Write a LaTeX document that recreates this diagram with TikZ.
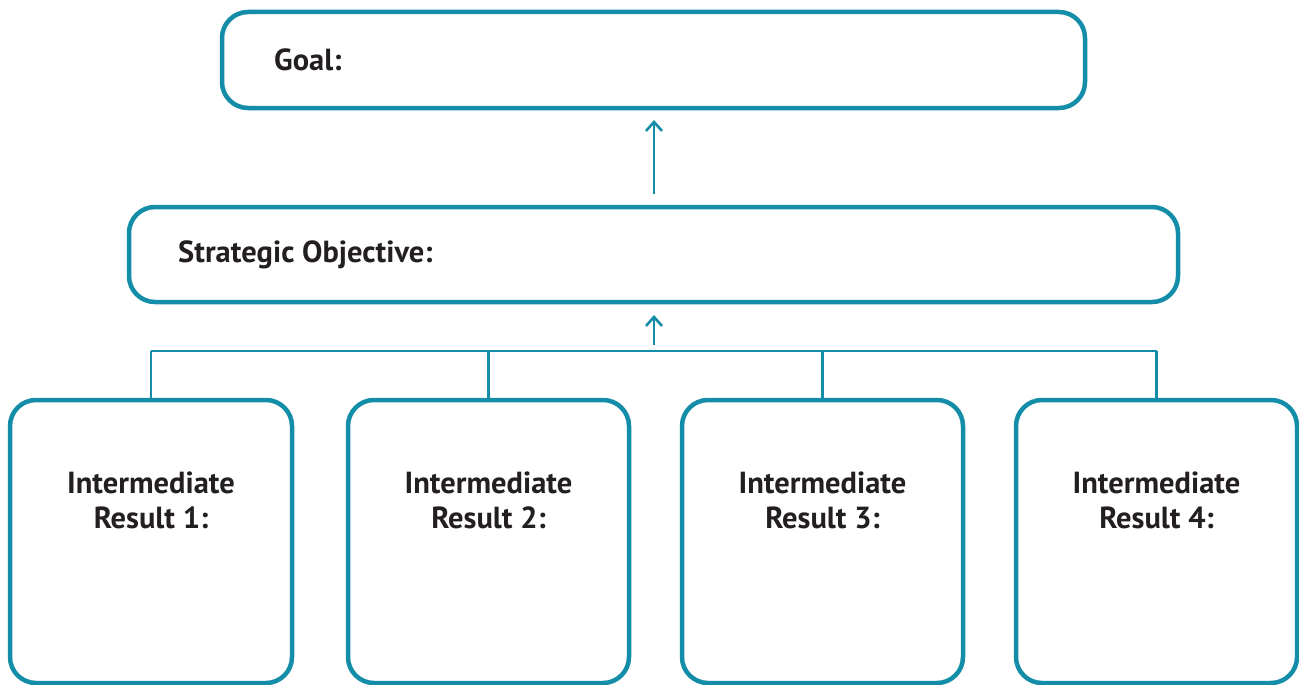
\documentclass[tikz,border=0pt]{standalone}
\usepackage{fontspec}
\setmainfont{PT Sans}
\usetikzlibrary{arrows.meta}
\definecolor{teal1}{HTML}{148DA8}
\definecolor{txt}{HTML}{231F20}
\tikzset{
  box/.style={draw=teal1, line width=4.5pt, rounded corners=26pt, fill=white},
  conn/.style={draw=teal1, line width=2.6pt},
  arr/.style={conn, -{Straight Barb[length=9pt,width=16pt,line width=2.6pt]}},
  lbl/.style={font=\fontsize{30.5}{35}\selectfont\bfseries, text=txt, align=center, inner sep=0pt},
}
\begin{document}
\begin{tikzpicture}[x=1pt,y=-1pt]
\useasboundingbox (0,0) rectangle (1299,685);
% boxes
\draw[box] (222,12) rectangle (1085,108);
\draw[box] (129,207) rectangle (1178,302);
\foreach \i/\xa/\xb in {1/10/292,2/348/629,3/682/963,4/1016/1297}{
  \draw[box] (\xa,400) rectangle (\xb,683);
  \node[lbl, anchor=north] (ir\i) at ({(\xa+\xb)/2},472) {Intermediate\\Result \i:};
  \coordinate (top\i) at ({(\xa+\xb)/2},398);
  \coordinate (hb\i) at ({(\xa+\xb)/2},351);
}
\node[lbl, anchor=west] (goal) at (274,60) {Goal:};
\node[lbl, anchor=west] (so) at (178,255) {Strategic Objective:};
% connectors
\coordinate (a1s) at (654,194);
\coordinate (a1e) at (654,120);
\coordinate (a2s) at (654,345);
\coordinate (a2e) at (654,315);
\draw[arr] (a1s) -- (a1e);
\draw[arr] (a2s) -- (a2e);
\draw[conn] (hb1) -- (hb4);
\foreach \i in {1,...,4}{\draw[conn] (hb\i) -- (top\i);}
\end{tikzpicture}
\end{document}
